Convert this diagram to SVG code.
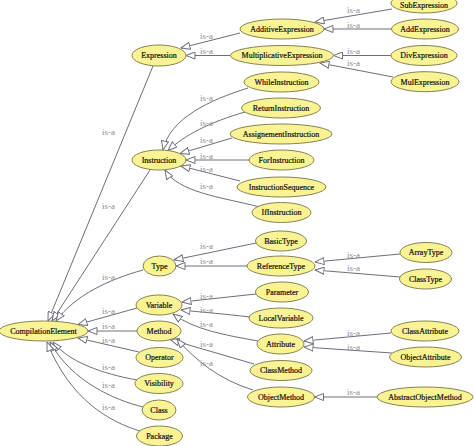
<svg xmlns="http://www.w3.org/2000/svg" width="474" height="446" viewBox="0 0 474 446">
<style>
.n ellipse{fill:#f9f394;stroke:#86834f;stroke-width:1}
.n text{font-family:"Liberation Serif","Times New Roman",serif;font-size:8px;fill:#111;stroke:#111;stroke-width:0.2;text-anchor:middle}
.e path{fill:none;stroke:#6e6e7c;stroke-width:1;marker-end:url(#ah)}
.e text{font-family:"Liberation Serif","Times New Roman",serif;font-size:9px;fill:#8c8c8c}
</style>
<defs>
<marker id="ah" viewBox="0 0 10 8" refX="9.5" refY="4" markerWidth="10" markerHeight="8" markerUnits="userSpaceOnUse" orient="auto">
<path d="M0.5,0.5 L9.5,4 L0.5,7.5 z" fill="#fff" stroke="#6e6e7c" stroke-width="1"/>
</marker>
</defs>
<rect width="474" height="446" fill="#fff"/>
<g id="connectors" class="e">
<path d="M240,33 L181,48"/>
<path d="M230,55.5 L186,55.5"/>
<path d="M392,9 L315,22"/>
<path d="M392,29 L324,29"/>
<path d="M391,55.5 L333.5,55.5"/>
<path d="M393,77 L320,63"/>
<path d="M248,88 C210,100 170,118 163,150"/>
<path d="M245,112 C210,122 185,135 168,150.5"/>
<path d="M232,138 L180,153.5"/>
<path d="M249,160 L186,160"/>
<path d="M240,181 L181,166"/>
<path d="M260,207 C220,197 178,192 165,170"/>
<path d="M256,243 L174,260"/>
<path d="M247,266 L176,266"/>
<path d="M400,254 L315,262"/>
<path d="M400,277 L315,270"/>
<path d="M256,294 L182,302"/>
<path d="M250,317 C225,314 200,312 181,310"/>
<path d="M258,341 C225,335 195,330 173,314"/>
<path d="M391,333 L304,341"/>
<path d="M392,353 L304,347"/>
<path d="M254,364 L170,339.5"/>
<path d="M253,390 C220,380 195,360 177,339"/>
<path d="M377,397 L314.5,397"/>
<path d="M153,66 L48,321"/>
<path d="M150,170 L52,321"/>
<path d="M143,270 C110,279 75,295 56,321"/>
<path d="M137,308 L78,324.5"/>
<path d="M137,331 L88,331"/>
<path d="M139,352 L78,338"/>
<path d="M137,380 C115,376 72,366 53,342"/>
<path d="M143,407 C115,400 72,382 50,342"/>
<path d="M140,431 C110,422 70,400 47,342"/>
<text x="347" y="13">is-a</text>
<text x="347" y="27.5">is-a</text>
<text x="347" y="53.5">is-a</text>
<text x="347" y="66">is-a</text>
<text x="347" y="258">is-a</text>
<text x="347" y="271">is-a</text>
<text x="347" y="336">is-a</text>
<text x="347" y="350">is-a</text>
<text x="347" y="395">is-a</text>
<text x="200" y="39">is-a</text>
<text x="200" y="53.5">is-a</text>
<text x="200" y="101">is-a</text>
<text x="200" y="126">is-a</text>
<text x="200" y="143">is-a</text>
<text x="200" y="159">is-a</text>
<text x="200" y="172">is-a</text>
<text x="200" y="189">is-a</text>
<text x="200" y="249">is-a</text>
<text x="200" y="264">is-a</text>
<text x="200" y="299">is-a</text>
<text x="200" y="312.5">is-a</text>
<text x="200" y="327">is-a</text>
<text x="200" y="347">is-a</text>
<text x="200" y="366">is-a</text>
<text x="102" y="135">is-a</text>
<text x="102" y="209">is-a</text>
<text x="102" y="280">is-a</text>
<text x="102" y="314">is-a</text>
<text x="102" y="329">is-a</text>
<text x="102" y="343">is-a</text>
<text x="102" y="370">is-a</text>
<text x="102" y="388">is-a</text>
<text x="102" y="410">is-a</text>
</g>
<g id="SubExpression" class="n"><ellipse cx="424" cy="3" rx="33" ry="10"/><text x="424" y="7.5">SubExpression</text></g>
<g id="AddExpression" class="n"><ellipse cx="425" cy="29" rx="33.5" ry="10"/><text x="425" y="31.8">AddExpression</text></g>
<g id="AdditiveExpression" class="n"><ellipse cx="282" cy="29" rx="42" ry="10"/><text x="282" y="31.8">AdditiveExpression</text></g>
<g id="Expression" class="n"><ellipse cx="159" cy="55.5" rx="27" ry="10.5"/><text x="159" y="58.3">Expression</text></g>
<g id="MultiplicativeExpression" class="n"><ellipse cx="282" cy="55.5" rx="51.5" ry="10"/><text x="282" y="58.3">MultiplicativeExpression</text></g>
<g id="DivExpression" class="n"><ellipse cx="424" cy="55.5" rx="33" ry="10"/><text x="424" y="58.3">DivExpression</text></g>
<g id="MulExpression" class="n"><ellipse cx="425" cy="81.7" rx="34" ry="10"/><text x="425" y="84.5">MulExpression</text></g>
<g id="WhileInstruction" class="n"><ellipse cx="281.5" cy="82" rx="37.5" ry="10"/><text x="281.5" y="84.8">WhileInstruction</text></g>
<g id="ReturnInstruction" class="n"><ellipse cx="281" cy="108" rx="39.5" ry="10"/><text x="281" y="110.8">ReturnInstruction</text></g>
<g id="AssignementInstruction" class="n"><ellipse cx="281" cy="134" rx="51" ry="10"/><text x="281" y="136.8">AssignementInstruction</text></g>
<g id="Instruction" class="n"><ellipse cx="159" cy="160" rx="27" ry="10"/><text x="159" y="162.8">Instruction</text></g>
<g id="ForInstruction" class="n"><ellipse cx="281.5" cy="160" rx="32.5" ry="10"/><text x="281.5" y="162.8">ForInstruction</text></g>
<g id="InstructionSequence" class="n"><ellipse cx="281.5" cy="187" rx="44.5" ry="10"/><text x="281.5" y="189.8">InstructionSequence</text></g>
<g id="IfInstruction" class="n"><ellipse cx="281.5" cy="212.5" rx="29.5" ry="10"/><text x="281.5" y="215.3">IfInstruction</text></g>
<g id="BasicType" class="n"><ellipse cx="281" cy="241" rx="25.5" ry="10"/><text x="281" y="243.8">BasicType</text></g>
<g id="Type" class="n"><ellipse cx="159.5" cy="266" rx="16.5" ry="10"/><text x="159.5" y="268.8">Type</text></g>
<g id="ReferenceType" class="n"><ellipse cx="281" cy="266" rx="34" ry="10"/><text x="281" y="268.8">ReferenceType</text></g>
<g id="ArrayType" class="n"><ellipse cx="426" cy="252.5" rx="26" ry="10"/><text x="426" y="255.3">ArrayType</text></g>
<g id="ClassType" class="n"><ellipse cx="425.5" cy="279" rx="26" ry="10"/><text x="425.5" y="281.8">ClassType</text></g>
<g id="Parameter" class="n"><ellipse cx="282" cy="292" rx="26.5" ry="10"/><text x="282" y="294.8">Parameter</text></g>
<g id="Variable" class="n"><ellipse cx="159" cy="305" rx="23" ry="10"/><text x="159" y="307.8">Variable</text></g>
<g id="LocalVariable" class="n"><ellipse cx="281" cy="318" rx="32" ry="10"/><text x="281" y="320.8">LocalVariable</text></g>
<g id="CompilationElement" class="n"><ellipse cx="43.5" cy="331" rx="44.5" ry="10"/><text x="43.5" y="333.8">CompilationElement</text></g>
<g id="Method" class="n"><ellipse cx="159" cy="331" rx="22" ry="10"/><text x="159" y="333.8">Method</text></g>
<g id="Attribute" class="n"><ellipse cx="280.5" cy="344" rx="23.5" ry="10"/><text x="280.5" y="346.8">Attribute</text></g>
<g id="ClassAttribute" class="n"><ellipse cx="425" cy="331" rx="34" ry="10"/><text x="425" y="333.8">ClassAttribute</text></g>
<g id="ObjectAttribute" class="n"><ellipse cx="425.5" cy="357" rx="36" ry="10"/><text x="425.5" y="359.8">ObjectAttribute</text></g>
<g id="Operator" class="n"><ellipse cx="159.5" cy="357.5" rx="23.5" ry="10"/><text x="159.5" y="360.3">Operator</text></g>
<g id="ClassMethod" class="n"><ellipse cx="281" cy="370.5" rx="31" ry="10"/><text x="281" y="373.3">ClassMethod</text></g>
<g id="Visibility" class="n"><ellipse cx="159" cy="383.5" rx="24" ry="10"/><text x="159" y="386.3">Visibility</text></g>
<g id="ObjectMethod" class="n"><ellipse cx="281" cy="397" rx="33.5" ry="10"/><text x="281" y="399.8">ObjectMethod</text></g>
<g id="AbstractObjectMethod" class="n"><ellipse cx="425" cy="397" rx="48" ry="10"/><text x="425" y="399.8">AbstractObjectMethod</text></g>
<g id="Class" class="n"><ellipse cx="159" cy="410" rx="17" ry="10"/><text x="159" y="412.8">Class</text></g>
<g id="Package" class="n"><ellipse cx="159.5" cy="436" rx="23" ry="10"/><text x="159.5" y="438.8">Package</text></g>
</svg>
